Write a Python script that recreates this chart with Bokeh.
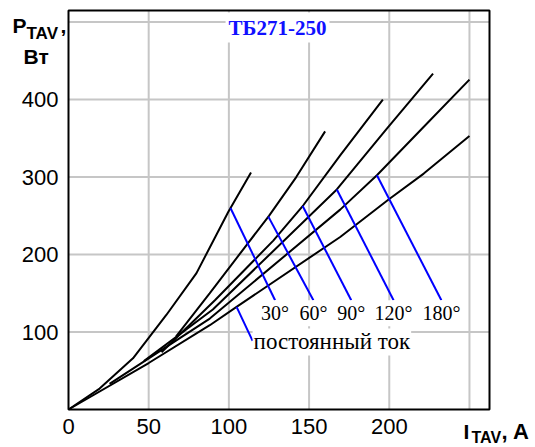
import numpy as np
from bokeh.plotting import figure
from bokeh.models import Range1d, FixedTicker, Label
from bokeh.embed import file_html
from bokeh.resources import INLINE

# ---------------- data ----------------
title_text = "ТБ271-250"

# conduction-angle curves: current I_TAV (A) and power P_TAV (W)
i_30 = [0, 19.4, 40.2, 61, 79.8, 99.6, 113.8]
p_30 = [0, 27, 66, 122, 176, 255, 306]

i_60 = [67, 88, 125, 142, 160]
p_60 = [94, 150, 250, 300, 359]

i_90 = [58, 91.3, 127.7, 146.4, 169.4, 196]
p_90 = [74, 141, 218, 263.6, 328, 400]

i_120 = [47, 90, 167.3, 198.5, 227.3]
p_120 = [62.5, 129, 284, 362.6, 433.5]

i_180 = [25.6, 88.1, 169.4, 192.3, 221.4, 250]
p_180 = [33, 117.4, 258, 302.3, 364.6, 425.8]

i_dc = [0, 50, 88.1, 104.8, 169.4, 199.6, 221.5, 250]
p_dc = [0, 60, 108.8, 132.4, 222.7, 271, 304.5, 353]

angle_labels = ["30°", "60°", "90°", "120°", "180°"]
dc_label = "постоянный ток"

# pointer lines: current where each pointer leaves its curve, and its lower end
ptr_i_start = [101, 124.6, 146, 167.3, 192.3]
ptr_i_end = [128.8, 152.7, 176.3, 202.7, 232.5]
ptr_p_end = [141, 141, 141, 141, 141]
dc_ptr_i_start = 104.8
dc_ptr_end = (114.8, 88.5)

x_ticks = [0, 50, 100, 150, 200]
y_ticks = [100, 200, 300, 400]
x_grid = [50, 100, 150, 200, 250]
y_grid = [100, 200, 300, 400, 500]
x_lim = (0, 262.5)
y_lim = (0, 515)

# ---------------- figure ----------------
W, H = 535, 447
FL, FR, FT, FB = 68, 489, 10, 409      # pixel edges of the boxed plot area
kx = (FR - FL) / (x_lim[1] - x_lim[0])
ky = (FB - FT) / (y_lim[1] - y_lim[0])
x_range = Range1d(x_lim[0] - FL / kx, x_lim[1] + (W - FR) / kx)
y_range = Range1d(y_lim[0] - (H - FB) / ky, y_lim[1] + FT / ky)

p = figure(width=W, height=H, output_backend="svg", toolbar_location=None,
           x_range=x_range, y_range=y_range,
           min_border_left=0, min_border_right=0, min_border_top=0, min_border_bottom=0)
p.background_fill_color = "white"
p.border_fill_color = "white"
p.outline_line_color = None
p.xgrid.visible = False
p.ygrid.visible = False

for ax in (p.xaxis, p.yaxis):
    ax.fixed_location = 0
    ax.axis_line_color = None
    ax.major_tick_line_color = None
    ax.minor_tick_line_color = None
    ax.major_tick_out = 0
    ax.major_tick_in = 0
    ax.major_label_text_font = "Liberation Sans"
    ax.major_label_text_font_size = "22px"
    ax.major_label_text_color = "black"
p.xaxis.ticker = FixedTicker(ticks=x_ticks)
p.yaxis.ticker = FixedTicker(ticks=y_ticks)
p.xaxis.major_label_standoff = 9
p.yaxis.major_label_standoff = 10

# grid lines inside the box
p.segment(x0=x_grid, y0=[y_lim[0]] * len(x_grid), x1=x_grid, y1=[y_lim[1]] * len(x_grid),
          line_color="#c6c6c6", line_width=2)
p.segment(x0=[x_lim[0]] * len(y_grid), y0=y_grid, x1=[x_lim[1]] * len(y_grid), y1=y_grid,
          line_color="#c6c6c6", line_width=2)
# box outline
p.quad(left=[x_lim[0]], right=[x_lim[1]], bottom=[y_lim[0]], top=[y_lim[1]],
       fill_color=None, line_color="black", line_width=2)

curves = [(i_30, p_30), (i_60, p_60), (i_90, p_90), (i_120, p_120), (i_180, p_180)]
for xs, ys in curves + [(i_dc, p_dc)]:
    p.line(xs, ys, line_color="black", line_width=2)

# pointer lines
for (xs, ys), i0, i1, p1 in zip(curves, ptr_i_start, ptr_i_end, ptr_p_end):
    p0 = float(np.interp(i0, xs, ys))
    p.line([i0, i1], [p0, p1], line_color="#0000ff", line_width=2)
dc_p0 = float(np.interp(dc_ptr_i_start, i_dc, p_dc))
p.line([dc_ptr_i_start, dc_ptr_end[0]], [dc_p0, dc_ptr_end[1]], line_color="#0000ff", line_width=2)

# labels
for txt, i1, p1 in zip(angle_labels, ptr_i_end, ptr_p_end):
    p.add_layout(Label(x=i1, y=p1, text=txt, text_align="center", text_baseline="top",
                       y_offset=0, text_font="Liberation Serif", text_font_size="20px",
                       text_color="black", background_fill_color="white", padding=2))
p.add_layout(Label(x=dc_ptr_end[0], y=dc_ptr_end[1], text=dc_label, text_align="left",
                   text_baseline="middle", y_offset=-1, text_font="Liberation Serif",
                   text_font_size="23px", text_color="black",
                   background_fill_color="white", padding=1))

p.add_layout(Label(x=277, y=H - 27, x_units="screen", y_units="screen",
                   text=title_text, text_align="center", text_baseline="middle",
                   text_font="Liberation Serif", text_font_style="bold", text_font_size="21px",
                   text_color="#1010ff", background_fill_color="white", padding=3))


def add_text(X, Y, txt, size):
    # X, Y: pixel position in the picture (from top-left)
    p.add_layout(Label(x=X, y=H - Y, x_units="screen", y_units="screen",
                       text=txt, text_align="left", text_baseline="alphabetic",
                       text_font="Liberation Sans", text_font_style="bold",
                       text_font_size=size, text_color="black"))


# y axis title  P_TAV, Вт
add_text(12, 25, "P", "21px")
add_text(26, 33, "TAV", "17px")
add_text(60, 25, ",", "21px")
add_text(23, 56, "Вт", "21px")
# x axis title  I_TAV, A
add_text(463, 431, "I", "21px")
add_text(471, 437, "TAV", "16px")
add_text(501, 431, ", A", "22px")

open("out.html", "w").write(file_html(p, INLINE))
